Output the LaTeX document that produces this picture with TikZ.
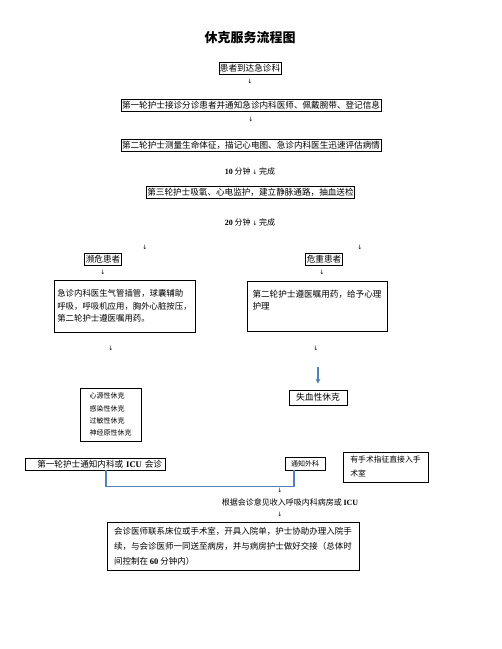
\documentclass[tikz,border=0pt]{standalone}
\usepackage{fontspec}
\setmainfont{Liberation Serif}
\newfontfamily\cjk{Noto Sans CJK SC}
\newfontfamily\symb{DejaVu Sans}
\usetikzlibrary{arrows.meta}
\definecolor{linkblue}{RGB}{79,129,189}
\def\flowbox(#1,#2,#3,#4){
  \node[box] (#1) at (#2,#3) {#4};
}
\def\downtick(#1,#2,#3){
  \node[tick] (#1) at (#2,#3) {↓};
}

\begin{document}
\begin{tikzpicture}[x=1pt, y=-1pt,
  box/.style={draw, line width=0.7pt, inner xsep=1pt, inner ysep=1pt, minimum height=12pt, font=\cjk\fontsize{8.6}{10}\selectfont},
  widebox/.style={box, minimum width=260pt},
  textbox/.style={draw, line width=0.7pt, align=left, inner xsep=5pt, font=\cjk\fontsize{8.6}{12.5}\selectfont},
  smallbox/.style={draw, line width=0.7pt, align=left, font=\cjk\fontsize{7}{12.3}\selectfont},
  plain/.style={inner sep=0pt, font=\cjk\fontsize{8}{10}\selectfont},
  tick/.style={inner sep=0pt, font=\symb\fontsize{6}{6}\selectfont},
  bluelink/.style={linkblue, line width=1.4pt},
  bluearrow/.style={linkblue, line width=1.2pt, -{Stealth[length=5pt,width=5pt]}}]
\useasboundingbox (0,0) rectangle (502,649);

\node[inner sep=0pt, font=\cjk\bfseries\fontsize{13}{13}\selectfont] (title) at (250,38) {休克服务流程图};

\flowbox(arrive,250,68.5,患者到达急诊科)
\downtick(t1,250,81)
\node[widebox] (first) at (251,105.5) {第一轮护士接诊分诊患者并通知急诊内科医师、佩戴腕带、登记信息};
\downtick(t2,251,119)
\node[widebox] (second) at (251,145.5) {第二轮护士测量生命体征，描记心电图、急诊内科医生迅速评估病情};
\node[plain] (ten) at (250,171) {{\rmfamily\bfseries 10} 分钟 {\symb\fontsize{6}{6}\selectfont ↓} 完成};
\flowbox(third,250.5,192.5,第三轮护士吸氧、心电监护，建立静脉通路，抽血送检)
\node[plain] (twenty) at (250,222) {{\rmfamily\bfseries 20} 分钟 {\symb\fontsize{6}{6}\selectfont ↓} 完成};

\downtick(t3,145,247)
\downtick(t4,360,247)
\flowbox(dying,103,259,濒危患者)
\flowbox(severe,324,259,危重患者)
\downtick(t5,103,272)
\downtick(t6,322,272)

\node[textbox, inner xsep=2pt, font=\cjk\fontsize{8.4}{12.5}\selectfont, minimum width=141pt, minimum height=52pt] (rescue) at (124.5,306) {急诊内科医生气管插管，球囊辅助\\呼吸，呼吸机应用，胸外心脏按压，\\第二轮护士遵医嘱用药。};
\node[textbox, minimum width=140pt, minimum height=50pt] (care) at (317,306) {第二轮护士遵医嘱用药，给予心理\\护理\\ \mbox{}};

\downtick(t7,111,348)
\downtick(t8,316,348)

\node[smallbox, minimum width=61pt, minimum height=53pt] (kinds) at (110.5,414.5) {心源性休克\\感染性休克\\过敏性休克\\神经原性休克};
\coordinate (bluetop) at (318,367);
\node[box, inner xsep=7pt, minimum height=15pt, font=\cjk\fontsize{8.8}{10}\selectfont] (blood) at (318,397.5) {失血性休克};
\draw[bluearrow] (bluetop) -- ([yshift=6pt]blood.north);

\node[box, text width=134pt, align=right, inner xsep=3pt] (icu) at (95,464) {第一轮护士通知内科或 {\rmfamily\bfseries ICU} 会诊};
\node[box, inner xsep=6pt, minimum height=13pt, font=\cjk\fontsize{7}{10}\selectfont] (surgery) at (305,463.5) {通知外科};
\node[smallbox, align=left, minimum width=85pt, minimum height=30pt, font=\cjk\fontsize{7.8}{14}\selectfont] (theatre) at (385.5,467) {有手术指征直接入手\\术室};
\draw[bluelink] ([xshift=11pt]icu.south) -- ++(0,16) -| ([xshift=-11pt]surgery.south);

\downtick(t9,280,490)
\node[plain] (admit) at (290,502) {根据会诊意见收入呼吸内科病房或 {\rmfamily\bfseries ICU}};
\downtick(t10,280,514)
\node[textbox, inner xsep=5pt, minimum width=252pt, minimum height=48pt, font=\cjk\fontsize{8.5}{15}\selectfont] (final) at (233,546) {会诊医师联系床位或手术室，开具入院单，护士协助办理入院手\\续，与会诊医师一同送至病房，并与病房护士做好交接（总体时\\间控制在 {\rmfamily\bfseries 60} 分钟内）};
\end{tikzpicture}
\end{document}
